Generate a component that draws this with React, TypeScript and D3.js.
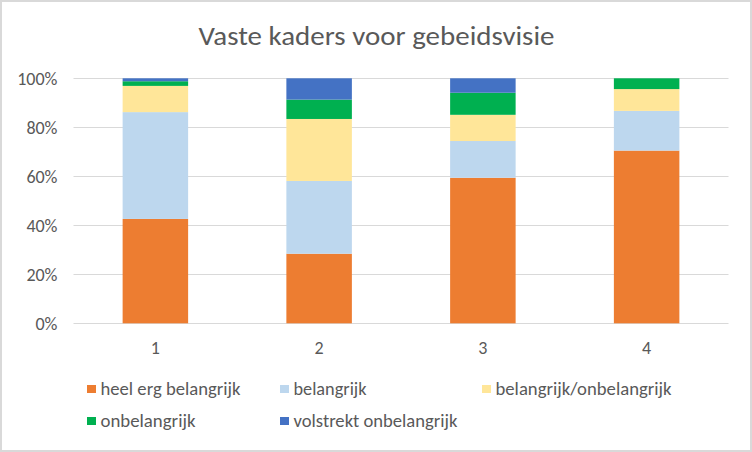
import React from "react";
import * as d3 from "d3";

const categories = ["1", "2", "3", "4"];
const seriesNames = [
  "heel erg belangrijk",
  "belangrijk",
  "belangrijk/onbelangrijk",
  "onbelangrijk",
  "volstrekt onbelangrijk",
];
const heelErgBelangrijk = [42.6, 28.4, 59.4, 70.5];
const belangrijk = [43.6, 29.7, 15.0, 16.2];
const neutraal = [10.7, 25.3, 10.7, 8.9];
const onbelangrijk = [1.9, 7.9, 9.0, 4.4];
const volstrektOnbelangrijk = [1.2, 8.7, 5.9, 0];
const yTicks = [0, 0.2, 0.4, 0.6, 0.8, 1.0];
const colors = ["#ED7D31", "#BDD7EE", "#FFE699", "#00B050", "#4472C4"];

const W = 752;
const H = 452;
const FONT = "Carlito, Calibri, 'Open Sans', sans-serif";
const TEXT = "#595959";

export default function App() {
  const values = [heelErgBelangrijk, belangrijk, neutraal, onbelangrijk, volstrektOnbelangrijk];
  const rows = categories.map((c, i) => {
    const o: any = { cat: c };
    seriesNames.forEach((s, k) => (o[s] = values[k][i]));
    return o;
  });
  const totals = categories.map((_, i) => d3.sum(values, (v) => v[i]));
  const norm = rows.map((r, i) => {
    const o: any = { cat: r.cat };
    seriesNames.forEach((s) => (o[s] = r[s] / totals[i]));
    return o;
  });
  const stack = d3.stack<any>().keys(seriesNames)(norm);

  const x = d3.scaleBand().domain(categories).range([73.5, 728.5]).paddingInner(0.6).paddingOuter(0.3);
  const y = d3.scaleLinear().domain([0, 1]).range([323.3, 78.3]);
  const fmt = d3.format(".0%");

  const legendPos = [
    [87, 385],
    [280, 385],
    [482, 385],
    [87, 417],
    [280, 417],
  ];
  const legendWidths = [140, 73, 176, 95, 164];

  return (
    <svg width={W} height={H} style={{ position: "absolute", left: 0, top: 0, background: "#fff" }}>
      <rect x={1} y={1} width={W - 2} height={H - 2} fill="#fff" stroke="#D9D9D9" strokeWidth={2} />
      <text x={376.5} y={45} textAnchor="middle" fontFamily={FONT} fontSize={27} fontWeight={300} fill={TEXT} textLength={356} lengthAdjust="spacingAndGlyphs">
        Vaste kaders voor gebeidsvisie
      </text>
      {yTicks.map((t) => (
        <g key={t}>
          <line x1={73.5} x2={728.5} y1={Math.round(y(t)) + 0.5} y2={Math.round(y(t)) + 0.5} stroke="#D9D9D9" strokeWidth={1} />
          <text x={57.5} y={y(t) + 6.5} textAnchor="end" fontFamily={FONT} fontSize={18} fill={TEXT}>
            {fmt(t)}
          </text>
        </g>
      ))}
      {stack.map((layer, k) => (
        <g key={k} fill={colors[k]}>
          {layer.map((d, i) =>
            d[1] - d[0] > 0 ? (
              <rect key={i} x={x(categories[i])!} width={x.bandwidth()} y={y(d[1])} height={y(d[0]) - y(d[1])} />
            ) : null
          )}
        </g>
      ))}
      {categories.map((c) => (
        <text key={c} x={x(c)! + x.bandwidth() / 2} y={353.5} textAnchor="middle" fontFamily={FONT} fontSize={18} fill={TEXT}>
          {c}
        </text>
      ))}
      {seriesNames.map((s, k) => (
        <g key={s}>
          <rect x={legendPos[k][0]} y={legendPos[k][1]} width={9} height={8} fill={colors[k]} />
          <text x={legendPos[k][0] + 13.5} y={legendPos[k][1] + 10} fontFamily={FONT} fontSize={18} fill={TEXT} textLength={legendWidths[k]} lengthAdjust="spacingAndGlyphs">
            {s}
          </text>
        </g>
      ))}
    </svg>
  );
}
